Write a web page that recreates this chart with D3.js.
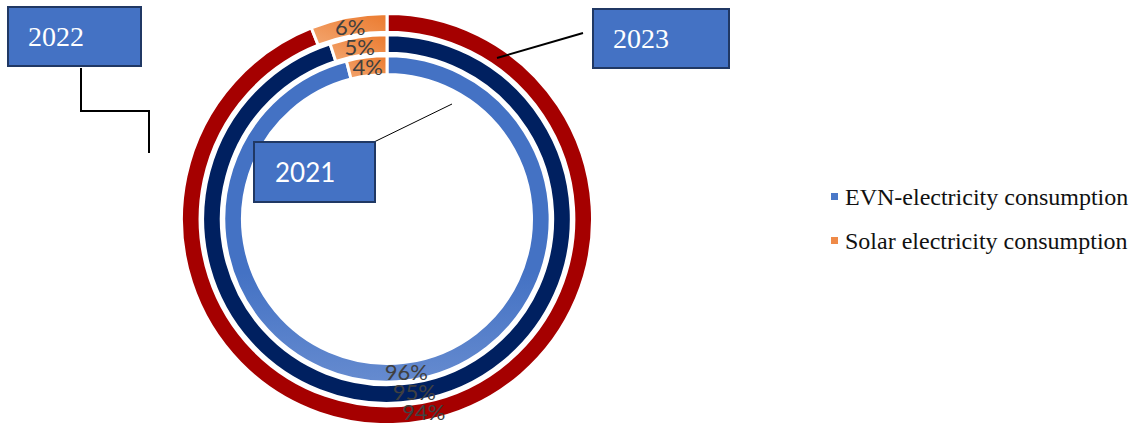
<!DOCTYPE html>
<html>
<head>
<meta charset="utf-8">
<script src="https://cdn.jsdelivr.net/npm/d3@7"></script>
<style>
  html, body { margin: 0; padding: 0; background: #fff; }
  svg { display: block; }
</style>
</head>
<body>
<svg id="chart" width="1139" height="423"></svg>
<script>
// ---- data ----
const years = ["2021", "2022", "2023"];
const categories = ["EVN-electricity consumption", "Solar electricity consumption"];
const evnShare = [96, 95, 94];
const solarShare = [4, 5, 6];

// ---- layout ----
const cx = 387, cy = 219;
const svg = d3.select("#chart");

const defs = svg.append("defs");
const gBlue = defs.append("linearGradient").attr("id", "gBlue")
  .attr("gradientUnits", "userSpaceOnUse")
  .attr("x1", 0).attr("y1", cy - 165).attr("x2", 0).attr("y2", cy + 165);
gBlue.append("stop").attr("offset", "0").attr("stop-color", "#4472c4");
gBlue.append("stop").attr("offset", "1").attr("stop-color", "#a9bde6");

const gOrange = defs.append("linearGradient").attr("id", "gOrange")
  .attr("x1", "1").attr("y1", "0").attr("x2", "0").attr("y2", "1");
gOrange.append("stop").attr("offset", "0").attr("stop-color", "#eb7a2e");
gOrange.append("stop").attr("offset", "1").attr("stop-color", "#f3a670");

const ringFill = {
  "2021": ["url(#gBlue)", "url(#gOrange)"],
  "2022": ["#002060", "url(#gOrange)"],
  "2023": ["#a50000", "url(#gOrange)"]
};

const radius = d3.scaleBand().domain(years).range([144.5, 205.5]).paddingInner(0.12).paddingOuter(0);
const pie = d3.pie().sort(null).value(d => d.v).startAngle(0).endAngle(2 * Math.PI);

const g = svg.append("g").attr("transform", `translate(${cx},${cy})`);

years.forEach((yr, i) => {
  const r0 = radius(yr), r1 = r0 + radius.bandwidth();
  const arc = d3.arc().innerRadius(r0).outerRadius(r1);
  const data = [{ c: 0, v: evnShare[i] }, { c: 1, v: solarShare[i] }];
  const arcs = pie(data);
  const ring = g.append("g").attr("class", "ring-" + yr);
  ring.selectAll("path").data(arcs).join("path")
    .attr("d", arc)
    .attr("fill", d => ringFill[yr][d.data.c])
    .attr("stroke", "#fff")
    .attr("stroke-width", 3);
});
// labels drawn on top of all rings
years.forEach((yr, i) => {
  const r0 = radius(yr), r1 = r0 + radius.bandwidth();
  const arc = d3.arc().innerRadius(r0).outerRadius(r1);
  const arcs = pie([{ c: 0, v: evnShare[i] }, { c: 1, v: solarShare[i] }]);
  g.append("g").selectAll("text").data(arcs).join("text")
    .attr("transform", d => `translate(${arc.centroid(d)})`)
    .attr("text-anchor", "middle")
    .attr("dominant-baseline", "central")
    .attr("font-family", "Lato, 'Open Sans', sans-serif")
    .attr("font-size", 22)
    .attr("fill", "#404040")
    .text(d => d.data.v + "%");
});

// ---- legend ----
const legendColors = ["#4a78c8", "#ef8a48"];
const legend = svg.append("g").attr("transform", "translate(831,0)");
categories.forEach((c, i) => {
  const y = 205 + i * 44;
  legend.append("rect").attr("x", 0).attr("y", y - 12).attr("width", 7).attr("height", 7)
    .attr("fill", legendColors[i]);
  legend.append("text").attr("x", 14).attr("y", y)
    .attr("font-family", "'Liberation Serif', 'Times New Roman', serif")
    .attr("font-size", 24).attr("fill", "#111")
    .text(c);
});

// ---- year callouts ----
const callouts = [
  { year: "2022", x: 8, y: 7, w: 133, h: 59, font: "'Liberation Serif', serif", size: 28, tx: 20,
    line: [[81, 68], [81, 111], [149, 111], [149, 153]], lw: 2 },
  { year: "2023", x: 593, y: 9, w: 136, h: 59, font: "'Liberation Serif', serif", size: 28, tx: 20,
    line: [[583, 33], [497, 58]], lw: 2 },
  { year: "2021", x: 254, y: 142, w: 121, h: 60, font: "Lato, sans-serif", size: 26, tx: 21,
    line: [[374, 142], [452, 104]], lw: 1 }
];
callouts.forEach(c => {
  svg.append("path")
    .attr("d", d3.line()(c.line))
    .attr("fill", "none").attr("stroke", "#000").attr("stroke-width", c.lw);
  svg.append("rect").attr("x", c.x).attr("y", c.y).attr("width", c.w).attr("height", c.h)
    .attr("fill", "#4472c4").attr("stroke", "#203864").attr("stroke-width", 2);
  svg.append("text").attr("x", c.x + c.tx).attr("y", c.y + c.h / 2)
    .attr("dominant-baseline", "central")
    .attr("font-family", c.font).attr("font-size", c.size).attr("fill", "#fff")
    .text(c.year);
});
</script>
</body>
</html>
